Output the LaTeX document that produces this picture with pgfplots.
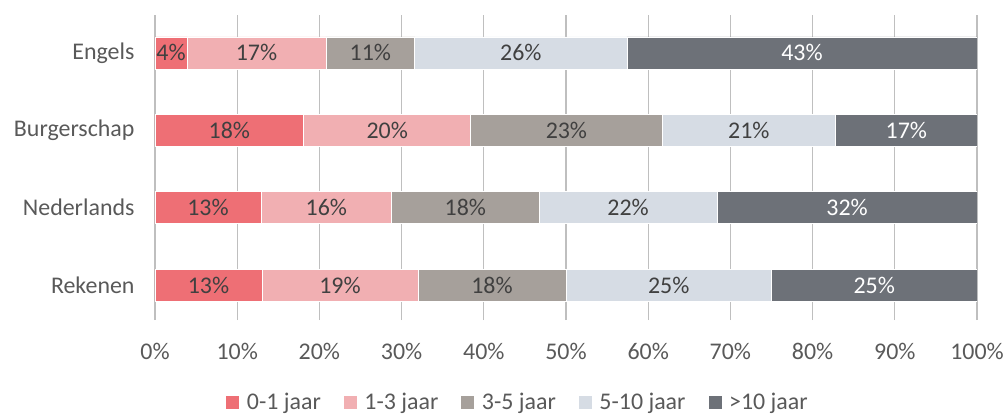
\documentclass[border=0pt]{standalone}
\usepackage{fontspec}
\setmainfont{Carlito}
\usepackage{pgfplots}
\pgfplotsset{compat=1.18}
\definecolor{cA}{RGB}{238,111,117}
\definecolor{cB}{RGB}{241,175,178}
\definecolor{cC}{RGB}{166,160,155}
\definecolor{cD}{RGB}{214,220,228}
\definecolor{cE}{RGB}{109,113,120}
\definecolor{txt}{RGB}{64,64,64}
\definecolor{tick}{RGB}{89,89,89}
\definecolor{grid}{RGB}{217,217,217}
\begin{document}
\begin{tikzpicture}
\begin{axis}[
  name=ax,
  scale only axis,
  width=822bp, height=305bp,
  xbar stacked,
  bar width=32bp,
  xmin=0, xmax=100,
  ymin=-0.45, ymax=3.49,
  xtick={0,10,...,100},
  xticklabel={\pgfmathprintnumber{\tick}\%},
  ytick={0,1,2,3},
  yticklabels={Rekenen,Nederlands,Burgerschap,Engels},
  axis line style={draw=none},
  major tick length=0pt,
  xmajorgrids,
  major grid style={grid, line width=1.2bp},
  tick label style={font=\fontsize{24}{28}\selectfont, text=tick},
  xticklabel shift=20bp,
  yticklabel shift=17bp,
  /pgf/number format/assume math mode=true,
  nodes near coords={\pgfmathprintnumber[fixed,precision=0]{\pgfplotspointmeta}\%},
  every node near coord/.append style={font=\fontsize{24}{28}\selectfont, text=txt},
  legend columns=5,
  legend style={draw=none, at={(0.441,-0.27)}, anchor=center,
    font=\fontsize{24}{28}\selectfont, text=tick, inner sep=0pt,
    /tikz/every odd column/.append style={column sep=5bp},
    /tikz/every even column/.append style={column sep=20bp}},
  legend image code/.code={\fill[#1] (0bp,-7bp) rectangle (14bp,7bp);},
]
\addplot[fill=cA, draw=white, line width=0.6bp] coordinates {(13.0,0) (12.9,1) (18.1,2) (3.9,3)};
\addplot[fill=cB, draw=white, line width=0.6bp] coordinates {(19.0,0) (15.9,1) (20.3,2) (16.9,3)};
\addplot[fill=cC, draw=white, line width=0.6bp] coordinates {(18.0,0) (17.9,1) (23.3,2) (10.8,3)};
\addplot[fill=cD, draw=white, line width=0.6bp] coordinates {(25.0,0) (21.7,1) (21.1,2) (25.8,3)};
\addplot[fill=cE, draw=white, line width=0.6bp, nodes near coords style={text=white}] coordinates {(25.0,0) (31.6,1) (17.2,2) (42.6,3)};
\legend{0-1 jaar,1-3 jaar,3-5 jaar,5-10 jaar,>10 jaar}
\end{axis}
\pgfresetboundingbox
\path[use as bounding box] ([xshift=-155bp,yshift=-97bp]ax.south west) rectangle ([xshift=29bp,yshift=15bp]ax.north east);
\end{tikzpicture}
\end{document}
